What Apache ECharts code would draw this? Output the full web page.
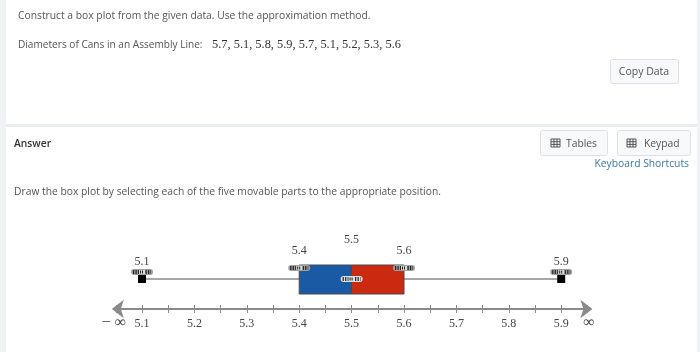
<!DOCTYPE html>
<html>
<head>
<meta charset="utf-8">
<title>Box plot</title>
<style>
html,body{margin:0;padding:0;background:#fff;}
#chart{width:700px;height:352px;}
</style>
<script src="https://cdn.jsdelivr.net/npm/echarts@6/dist/echarts.min.js"></script>
</head>
<body>
<div id="chart"></div>
<script>
// five number summary: min, q1, median, q3, max
var fiveNumber = [5.1, 5.4, 5.5, 5.6, 5.9];
var tickLabels = ['5.1', '5.2', '5.3', '5.4', '5.5', '5.6', '5.7', '5.8', '5.9'];
var valueLabels = ['5.1', '5.4', '5.5', '5.6', '5.9'];
var questionText = 'Construct a box plot from the given data. Use the approximation method.';
var dataLabel = 'Diameters of Cans in an Assembly Line:';
var dataValues = '5.7, 5.1, 5.8, 5.9, 5.7, 5.1, 5.2, 5.3, 5.6';
var answerText = 'Draw the box plot by selecting each of the five movable parts to the appropriate position.';

var uiFont = '"Open Sans", sans-serif';
var serifFont = '"Liberation Serif", serif';

// pill shaped drag handle
function handle(cx, cy, light) {
    return [
        { type: 'rect', shape: { x: cx - 11, y: cy - 3, width: 22, height: 6, r: 3 }, style: { fill: light ? '#e0e0e0' : '#a0a0a0' } },
        { type: 'line', shape: { x1: cx - 9, y1: cy, x2: cx + 9, y2: cy }, style: { stroke: '#222', lineWidth: 4, lineDash: [1.2, 1.3] } },
        { type: 'rect', shape: { x: cx - 3, y: cy - 2, width: 6, height: 4 }, style: { fill: '#ddd' } },
        { type: 'line', shape: { x1: cx - 2, y1: cy, x2: cx + 2, y2: cy }, style: { stroke: '#222', lineWidth: 3, lineDash: [1, 1] } }
    ];
}

function renderBox(params, api) {
    var base = api.coord([fiveNumber[0], 0])[1];
    var xs = fiveNumber.map(function (v) { return api.coord([v, 0])[0]; });
    var midY = base - 30, boxTop = base - 44, boxBottom = base - 15;
    var labelY = [base - 47, base - 58, base - 69, base - 58, base - 47];
    var kids = [
        { type: 'line', shape: { x1: xs[0], y1: midY, x2: xs[4], y2: midY }, style: { stroke: '#8a8a8a', lineWidth: 1.5 } },
        { type: 'rect', shape: { x: xs[1], y: boxTop, width: xs[2] - xs[1], height: boxBottom - boxTop }, style: { fill: '#1a5aa4', stroke: '#4a4a4a', lineWidth: 1 } },
        { type: 'rect', shape: { x: xs[2], y: boxTop, width: xs[3] - xs[2], height: boxBottom - boxTop }, style: { fill: '#cc2a10', stroke: '#4a4a4a', lineWidth: 1 } },
        { type: 'rect', shape: { x: xs[0] - 4, y: midY - 4, width: 8, height: 8 }, style: { fill: '#000' } },
        { type: 'rect', shape: { x: xs[4] - 4, y: midY - 4, width: 8, height: 8 }, style: { fill: '#000' } }
    ];
    kids = kids.concat(handle(xs[0], midY - 7), handle(xs[4], midY - 7));
    kids = kids.concat(handle(xs[1], boxTop + 3), handle(xs[3], boxTop + 3), handle(xs[2], midY, true));
    xs.forEach(function (x, i) {
        kids.push({
            type: 'text',
            style: { x: x, y: labelY[i], text: valueLabels[i], fill: '#444', font: '12px ' + serifFont, textAlign: 'center', textVerticalAlign: 'middle' }
        });
    });
    return { type: 'group', children: kids };
}

function uiText(x, y, text, size, color, extra) {
    var t = { type: 'text', x: x, y: y, silent: true, style: { text: text, fill: color, font: size + 'px ' + uiFont, textVerticalAlign: 'middle' } };
    if (extra) { for (var k in extra) { t.style[k] = extra[k]; } }
    return t;
}

function button(x, y, w, h) {
    return { type: 'rect', silent: true, shape: { x: x + 0.5, y: y + 0.5, width: w, height: h, r: 2 }, style: { fill: '#f8f9fb', stroke: '#dde1e6', lineWidth: 1 } };
}

function gridIcon(x, y) {
    var parts = [{ type: 'rect', shape: { x: x, y: y, width: 9, height: 8 }, style: { fill: 'none', stroke: '#555', lineWidth: 1 } }];
    [2.7, 5.4].forEach(function (d) {
        parts.push({ type: 'line', shape: { x1: x, y1: y + d, x2: x + 9, y2: y + d }, style: { stroke: '#555', lineWidth: 1 } });
    });
    [3, 6].forEach(function (d) {
        parts.push({ type: 'line', shape: { x1: x + d, y1: y, x2: x + d, y2: y + 8 }, style: { stroke: '#555', lineWidth: 1 } });
    });
    return { type: 'group', silent: true, children: parts };
}

var graphics = [
    { type: 'rect', silent: true, shape: { x: 0, y: 0, width: 6, height: 352 }, style: { fill: '#eef3f8' } },
    { type: 'rect', silent: true, shape: { x: 697, y: 0, width: 3, height: 352 }, style: { fill: '#eef3f8' } },
    { type: 'rect', silent: true, shape: { x: 6, y: 124, width: 691, height: 3 }, style: { fill: '#e9edf0' } },
    uiText(18, 16, questionText, 10.3, '#555'),
    uiText(18, 45, dataLabel, 10.1, '#555'),
    { type: 'text', x: 212, y: 45, silent: true, style: { text: dataValues, fill: '#333', font: '12.4px ' + serifFont, textVerticalAlign: 'middle' } },
    uiText(14, 144, 'Answer', 10.3, '#333', { font: '600 10.3px ' + uiFont }),
    uiText(14, 192, answerText, 10.3, '#555'),
    button(610, 59, 68, 24),
    uiText(644, 72, 'Copy Data', 10.5, '#555', { textAlign: 'center' }),
    button(540, 130, 67, 25),
    gridIcon(551, 139),
    uiText(566, 144, 'Tables', 10.3, '#555'),
    button(617, 130, 73, 25),
    gridIcon(627, 139),
    uiText(644, 144, 'Keypad', 10.3, '#555'),
    uiText(689, 164, 'Keyboard Shortcuts', 10.3, '#3b77a8', { textAlign: 'right' }),
    { type: 'text', x: 114, y: 323, silent: true, style: { text: '\u2212 \u221e', fill: '#444', font: '16px ' + serifFont, textAlign: 'center', textVerticalAlign: 'middle' } },
    { type: 'text', x: 589, y: 323, silent: true, style: { text: '\u221e', fill: '#444', font: '16px ' + serifFont, textAlign: 'center', textVerticalAlign: 'middle' } }
];

var myCharts = echarts.init(document.getElementById('chart'));
myCharts.setOption({
    animation: false,
    backgroundColor: '#fff',
    graphic: graphics,
    grid: { left: 115.8, right: 112.6, top: 230, height: 79 },
    xAxis: [{
        type: 'value',
        min: 5.05,
        max: 5.95,
        interval: 0.05,
        position: 'bottom',
        splitLine: { show: false },
        axisLine: { onZero: false, symbol: ['arrow', 'arrow'], symbolSize: [14, 12], symbolOffset: [-4, 5], lineStyle: { color: '#8a8a8a', width: 2 } },
        axisTick: { length: 4, lineStyle: { color: '#8a8a8a' } },
        axisLabel: {
            margin: 9,
            color: '#444',
            fontFamily: serifFont,
            fontSize: 12,
            showMinLabel: true,
            showMaxLabel: true,
            hideOverlap: false,
            formatter: function (v) {
                // ticks every 0.05, only the tenths carry a label
                var s = v.toFixed(2);
                return s.charAt(3) === '0' && tickLabels.indexOf(s.slice(0, 3)) >= 0 ? s.slice(0, 3) : '';
            }
        }
    }, {
        // second axis only for the upper half of each tick
        type: 'value',
        min: 5.05,
        max: 5.95,
        interval: 0.05,
        position: 'bottom',
        splitLine: { show: false },
        axisLine: { show: false },
        axisLabel: { show: false },
        axisTick: { inside: true, length: 4, lineStyle: { color: '#8a8a8a' } }
    }],
    yAxis: { type: 'value', min: 0, max: 79, show: false },
    series: [{
        type: 'custom',
        silent: true,
        clip: false,
        renderItem: renderBox,
        data: fiveNumber.map(function (v) { return [v, 0]; }).slice(0, 1)
    }]
});
</script>
</body>
</html>
